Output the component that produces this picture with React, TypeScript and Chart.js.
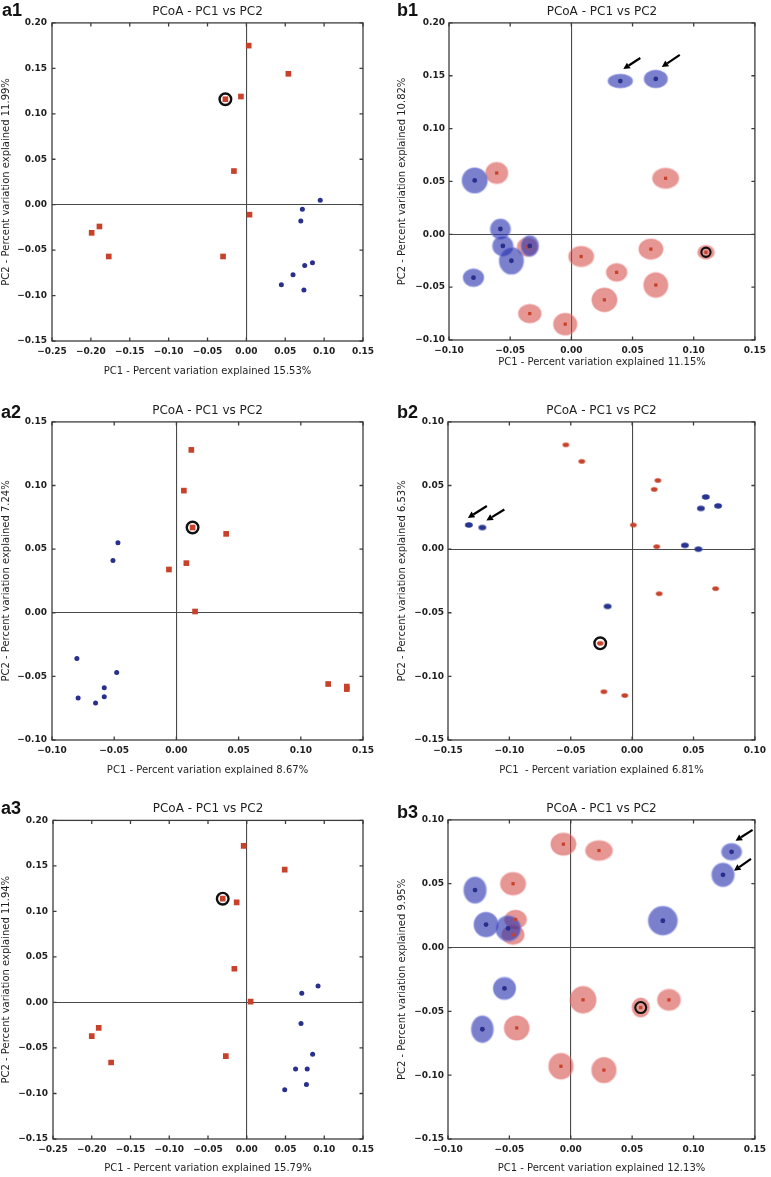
import React, { useEffect, useRef } from 'react';
import { Chart, registerables } from 'chart.js';

Chart.register(...registerables);

// ---------- data (PC1 / PC2 coordinates) ----------
// a1
const a1RedPC1 = [0.003, 0.054, -0.007, -0.027, -0.016, 0.004, -0.030, -0.189, -0.199, -0.177];
const a1RedPC2 = [0.175, 0.144, 0.119, 0.116, 0.037, -0.011, -0.057, -0.024, -0.031, -0.057];
const a1BluePC1 = [0.095, 0.072, 0.070, 0.085, 0.075, 0.060, 0.045, 0.074];
const a1BluePC2 = [0.005, -0.005, -0.018, -0.064, -0.067, -0.077, -0.088, -0.094];
const a1Circled = 3;

// b1
const b1BluePC1 = [0.040, 0.069, -0.079, -0.058, -0.056, -0.034, -0.049, -0.080];
const b1BluePC2 = [0.145, 0.147, 0.051, 0.005, -0.011, -0.011, -0.025, -0.041];
const b1BlueSpread1 = [0.0099, 0.0094, 0.0102, 0.0081, 0.0083, 0.0071, 0.0098, 0.0083];
const b1BlueSpread2 = [0.0063, 0.0082, 0.0118, 0.0094, 0.0094, 0.0097, 0.0126, 0.0082];
const b1RedPC1 = [-0.061, 0.077, -0.036, 0.008, 0.065, 0.110, 0.037, 0.069, 0.027, -0.034, -0.005];
const b1RedPC2 = [0.058, 0.053, -0.012, -0.021, -0.014, -0.017, -0.036, -0.048, -0.062, -0.075, -0.085];
const b1RedSpread1 = [0.0089, 0.0105, 0.0081, 0.0101, 0.0097, 0.0067, 0.0083, 0.0097, 0.0101, 0.0091, 0.0094];
const b1RedSpread2 = [0.0099, 0.0094, 0.0086, 0.0094, 0.0094, 0.0063, 0.0082, 0.0115, 0.011, 0.0086, 0.0102];
const b1Circled = 5;

// a2
const a2RedPC1 = [0.012, 0.006, 0.013, 0.040, 0.008, -0.006, 0.015, 0.122, 0.137, 0.137];
const a2RedPC2 = [0.128, 0.096, 0.067, 0.062, 0.039, 0.034, 0.001, -0.056, -0.058, -0.060];
const a2BluePC1 = [-0.047, -0.051, -0.080, -0.048, -0.079, -0.058, -0.058, -0.065];
const a2BluePC2 = [0.055, 0.041, -0.036, -0.047, -0.067, -0.059, -0.066, -0.071];
const a2Circled = 2;

// b2
const b2RedPC1 = [-0.054, -0.041, 0.021, 0.018, 0.001, 0.020, 0.022, 0.068, -0.026, -0.023, -0.006];
const b2RedPC2 = [0.082, 0.069, 0.054, 0.047, 0.019, 0.002, -0.035, -0.031, -0.074, -0.112, -0.115];
const b2BluePC1 = [-0.133, -0.122, 0.060, 0.056, 0.070, 0.043, 0.054, -0.020];
const b2BluePC2 = [0.019, 0.017, 0.041, 0.032, 0.034, 0.003, 0.000, -0.045];
const b2Circled = 8;

// a3
const a3RedPC1 = [-0.004, 0.049, -0.031, -0.013, -0.016, 0.005, -0.027, -0.191, -0.200, -0.175];
const a3RedPC2 = [0.172, 0.146, 0.114, 0.110, 0.037, 0.001, -0.059, -0.028, -0.037, -0.066];
const a3BluePC1 = [0.092, 0.071, 0.070, 0.085, 0.063, 0.078, 0.077, 0.049];
const a3BluePC2 = [0.018, 0.010, -0.023, -0.057, -0.073, -0.073, -0.090, -0.096];
const a3Circled = 2;

// b3
const b3BluePC1 = [0.131, 0.124, -0.078, -0.069, -0.051, 0.075, -0.054, -0.072];
const b3BluePC2 = [0.075, 0.057, 0.045, 0.018, 0.015, 0.021, -0.032, -0.064];
const b3BlueSpread1 = [0.0081, 0.009, 0.009, 0.0097, 0.0101, 0.0117, 0.009, 0.0088];
const b3BlueSpread2 = [0.0065, 0.0091, 0.0102, 0.0095, 0.0098, 0.0111, 0.0085, 0.0103];
const b3RedPC1 = [-0.006, 0.023, -0.047, -0.045, -0.047, 0.010, 0.080, 0.057, -0.044, -0.008, 0.027];
const b3RedPC2 = [0.081, 0.076, 0.050, 0.022, 0.010, -0.041, -0.041, -0.047, -0.063, -0.093, -0.096];
const b3RedSpread1 = [0.0101, 0.0108, 0.0101, 0.0088, 0.0089, 0.0105, 0.0092, 0.007, 0.01, 0.0098, 0.0098];
const b3RedSpread2 = [0.0085, 0.0076, 0.0087, 0.0072, 0.0074, 0.0103, 0.0081, 0.0074, 0.0094, 0.01, 0.0098];
const b3Circled = 7;

// axis texts
const chartTitle = 'PCoA - PC1 vs PC2';
const xTitles = [
  'PC1 - Percent variation explained 15.53%',
  'PC1 - Percent variation explained 11.15%',
  'PC1 - Percent variation explained 8.67%',
  'PC1  - Percent variation explained 6.81%',
  'PC1 - Percent variation explained 15.79%',
  'PC1 - Percent variation explained 12.13%',
];
const yTitles = [
  'PC2 - Percent variation explained 11.99%',
  'PC2 - Percent variation explained 10.82%',
  'PC2 - Percent variation explained 7.24%',
  'PC2 - Percent variation explained 6.53%',
  'PC2 - Percent variation explained 11.94%',
  'PC2 - Percent variation explained 9.95%',
];
const panelLabels = ['a1', 'b1', 'a2', 'b2', 'a3', 'b3'];
// axis ranges [xmin, xmax, ymin, ymax]
const axisRanges = [
  [-0.25, 0.15, -0.15, 0.2],
  [-0.1, 0.15, -0.1, 0.2],
  [-0.1, 0.15, -0.1, 0.15],
  [-0.15, 0.1, -0.15, 0.1],
  [-0.25, 0.15, -0.15, 0.2],
  [-0.1, 0.15, -0.15, 0.1],
];

// ---------- styles ----------
const FONT = '"DejaVu Sans", sans-serif';
const RED = '#c8412a';
const BLUE = '#282f8c';
const BLUE_FILL = 'rgba(40,50,172,0.62)';
const BLUE_RIM = 'rgba(120,128,220,0.55)';
const RED_FILL = 'rgba(208,62,56,0.54)';
const RED_RIM = 'rgba(232,130,130,0.5)';

function makeEllipse(rx: number, ry: number, fill: string, rim: string, rimWidth: number) {
  const pad = Math.ceil(rimWidth) + 1;
  const w = Math.ceil(rx * 2) + pad * 2;
  const h = Math.ceil(ry * 2) + pad * 2;
  const c = document.createElement('canvas');
  c.width = w;
  c.height = h;
  const g = c.getContext('2d')!;
  g.beginPath();
  g.ellipse(w / 2, h / 2, rx, ry, 0, 0, Math.PI * 2);
  g.fillStyle = fill;
  g.fill();
  if (rimWidth > 0) {
    g.lineWidth = rimWidth;
    g.strokeStyle = rim;
    g.stroke();
  }
  return c;
}

function spreadStyle(s1: number[], s2: number[], fill: string, rim: string) {
  return (ctx: any) => {
    const i = ctx.dataIndex;
    const xs = ctx.chart.scales.x;
    const ys = ctx.chart.scales.y;
    if (i == null || !xs || !ys) return 'circle';
    const rx = Math.abs(xs.getPixelForValue(s1[i]) - xs.getPixelForValue(0));
    const ry = Math.abs(ys.getPixelForValue(s2[i]) - ys.getPixelForValue(0));
    if (!isFinite(rx) || !isFinite(ry) || rx <= 0 || ry <= 0) return 'circle';
    return makeEllipse(rx, ry, fill, rim, 1.6);
  };
}

const toPts = (xs: number[], ys: number[]) => xs.map((x, i) => ({ x, y: ys[i] }));

function ringDataset(x: number, y: number, r: number, w: number) {
  return {
    data: [{ x, y }],
    pointStyle: 'circle',
    pointRadius: r,
    pointBorderWidth: w,
    pointBorderColor: '#111',
    pointBackgroundColor: 'rgba(255,255,255,0)',
    order: 1,
  };
}

function plainDatasets(rx: number[], ry: number[], bx: number[], by: number[], c: number) {
  return [
    { data: toPts(bx, by), pointStyle: 'circle', pointRadius: 2.5, pointBorderWidth: 0, pointBackgroundColor: BLUE, order: 0 },
    { data: toPts(rx, ry), pointStyle: 'rect', pointRadius: 4, pointBorderWidth: 0, pointBackgroundColor: RED, order: 0 },
    ringDataset(rx[c], ry[c], 5.8, 2.4),
  ];
}

function spreadDatasets(
  rx: number[], ry: number[], rs1: number[], rs2: number[],
  bx: number[], by: number[], bs1: number[], bs2: number[], c: number, ringR: number,
) {
  return [
    { data: toPts(bx, by), pointStyle: 'circle', pointRadius: 2.4, pointBorderWidth: 0, pointBackgroundColor: BLUE, order: 0 },
    { data: toPts(rx, ry), pointStyle: 'rect', pointRadius: 2.3, pointBorderWidth: 0, pointBackgroundColor: RED, order: 0 },
    ringDataset(rx[c], ry[c], ringR, 2.1),
    { data: toPts(bx, by), pointStyle: spreadStyle(bs1, bs2, BLUE_FILL, BLUE_RIM), pointRadius: 4, pointBorderWidth: 0, order: 2 },
    { data: toPts(rx, ry), pointStyle: spreadStyle(rs1, rs2, RED_FILL, RED_RIM), pointRadius: 4, pointBorderWidth: 0, order: 3 },
  ];
}

function dotDatasets(rx: number[], ry: number[], bx: number[], by: number[], c: number) {
  const redDot = makeEllipse(3.3, 2.3, RED, RED, 0);
  const blueDot = makeEllipse(3.9, 2.8, '#283590', BLUE, 0);
  return [
    { data: toPts(bx, by), pointStyle: blueDot, pointRadius: 3, pointBorderWidth: 0, order: 0 },
    { data: toPts(rx, ry), pointStyle: redDot, pointRadius: 3, pointBorderWidth: 0, order: 0 },
    ringDataset(rx[c], ry[c], 5.8, 2.4),
  ];
}

// ---------- panel layouts ----------
type Arrow = { ds: number; index: number; tip: [number, number]; tail: [number, number] };
type Panel = {
  idx: number;
  left: number; top: number; width: number; height: number;
  pad: { left: number; right: number; top: number; bottom: number };
  yWidth: number; xHeight: number; yTitlePad: number; yTickPad: number;
  labelPos: [number, number];
  datasets: any[];
  arrows: Arrow[];
};

const panels: Panel[] = [
  {
    idx: 0, left: 0, top: 0, width: 385, height: 390,
    pad: { left: 0, right: 22, top: 0, bottom: 13 }, yWidth: 52, xHeight: 36, yTitlePad: 0, yTickPad: 5,
    labelPos: [2, 11],
    datasets: plainDatasets(a1RedPC1, a1RedPC2, a1BluePC1, a1BluePC2, a1Circled),
    arrows: [],
  },
  {
    idx: 1, left: 385, top: 0, width: 386, height: 390,
    pad: { left: 10, right: 12, top: 0, bottom: 22 }, yWidth: 54, xHeight: 28, yTitlePad: 1, yTickPad: 4,
    labelPos: [12, 11],
    datasets: spreadDatasets(b1RedPC1, b1RedPC2, b1RedSpread1, b1RedSpread2, b1BluePC1, b1BluePC2, b1BlueSpread1, b1BlueSpread2, b1Circled, 4.6),
    arrows: [
      { ds: 0, index: 0, tip: [3, -12], tail: [20, -23] },
      { ds: 0, index: 1, tip: [6, -12], tail: [24, -24] },
    ],
  },
  {
    idx: 2, left: 0, top: 390, width: 385, height: 390,
    pad: { left: 0, right: 22, top: 9, bottom: 4 }, yWidth: 52, xHeight: 36, yTitlePad: 0, yTickPad: 5,
    labelPos: [1, 23],
    datasets: plainDatasets(a2RedPC1, a2RedPC2, a2BluePC1, a2BluePC2, a2Circled),
    arrows: [],
  },
  {
    idx: 3, left: 385, top: 390, width: 386, height: 390,
    pad: { left: 10, right: 13, top: 9, bottom: 4 }, yWidth: 53, xHeight: 36, yTitlePad: 1, yTickPad: 4,
    labelPos: [12, 23],
    datasets: dotDatasets(b2RedPC1, b2RedPC2, b2BluePC1, b2BluePC2, b2Circled),
    arrows: [
      { ds: 0, index: 0, tip: [-1, -7], tail: [18, -19] },
      { ds: 0, index: 1, tip: [4, -7], tail: [22, -18] },
    ],
  },
  {
    idx: 4, left: 0, top: 780, width: 385, height: 397,
    pad: { left: 0, right: 22, top: 17.5, bottom: 3 }, yWidth: 53, xHeight: 35, yTitlePad: 0, yTickPad: 5,
    labelPos: [1, 29],
    datasets: plainDatasets(a3RedPC1, a3RedPC2, a3BluePC1, a3BluePC2, a3Circled),
    arrows: [],
  },
  {
    idx: 5, left: 385, top: 780, width: 386, height: 397,
    pad: { left: 10, right: 13, top: 17, bottom: 3 }, yWidth: 53, xHeight: 35, yTitlePad: 1, yTickPad: 4,
    labelPos: [12, 33],
    datasets: spreadDatasets(b3RedPC1, b3RedPC2, b3RedSpread1, b3RedSpread2, b3BluePC1, b3BluePC2, b3BlueSpread1, b3BlueSpread2, b3Circled, 5.5),
    arrows: [
      { ds: 0, index: 0, tip: [4, -11], tail: [21, -22] },
      { ds: 0, index: 1, tip: [11, -4], tail: [28, -16] },
    ],
  },
];

const fmtTick = (v: any) => {
  const n = Number(v);
  const s = Math.abs(n).toFixed(2);
  return n < -1e-9 ? '\u2212' + s : s;
};

const zeroGrid = (ctx: any) => (ctx.tick && Math.abs(ctx.tick.value) < 1e-9 ? '#4a4a4a' : 'rgba(0,0,0,0)');

const decorPlugin = {
  id: 'decor',
  afterDraw(chart: any, _args: any, o: any) {
    const { ctx, chartArea: a, scales } = chart;
    ctx.save();
    // frame
    ctx.strokeStyle = '#3c3c3c';
    ctx.lineWidth = 1.3;
    ctx.strokeRect(a.left, a.top, a.right - a.left, a.bottom - a.top);
    // inward tick marks on all four sides
    const L = 3.5;
    ctx.beginPath();
    for (const t of scales.x.ticks) {
      const px = scales.x.getPixelForValue(t.value);
      ctx.moveTo(px, a.bottom);
      ctx.lineTo(px, a.bottom - L);
      ctx.moveTo(px, a.top);
      ctx.lineTo(px, a.top + L);
    }
    for (const t of scales.y.ticks) {
      const py = scales.y.getPixelForValue(t.value);
      ctx.moveTo(a.left, py);
      ctx.lineTo(a.left + L, py);
      ctx.moveTo(a.right, py);
      ctx.lineTo(a.right - L, py);
    }
    ctx.stroke();
    // arrows pointing at samples
    for (const ar of o.arrows || []) {
      const el = chart.getDatasetMeta(ar.ds).data[ar.index];
      if (!el) continue;
      const tx = el.x + ar.tip[0];
      const ty = el.y + ar.tip[1];
      const sx = el.x + ar.tail[0];
      const sy = el.y + ar.tail[1];
      const ang = Math.atan2(ty - sy, tx - sx);
      const head = 6.5;
      const hw = 3.4;
      const bx = tx - head * Math.cos(ang);
      const by = ty - head * Math.sin(ang);
      ctx.strokeStyle = '#000';
      ctx.fillStyle = '#000';
      ctx.lineWidth = 2.2;
      ctx.beginPath();
      ctx.moveTo(sx, sy);
      ctx.lineTo(bx, by);
      ctx.stroke();
      ctx.beginPath();
      ctx.moveTo(tx, ty);
      ctx.lineTo(bx + hw * Math.sin(ang), by - hw * Math.cos(ang));
      ctx.lineTo(bx - hw * Math.sin(ang), by + hw * Math.cos(ang));
      ctx.closePath();
      ctx.fill();
    }
    // panel label
    ctx.fillStyle = '#111';
    ctx.font = 'bold 18px "Liberation Sans", Arial, sans-serif';
    ctx.textAlign = 'left';
    ctx.textBaseline = 'middle';
    ctx.fillText(o.label, o.labelPos[0], o.labelPos[1]);
    ctx.restore();
  },
};

function buildConfig(p: Panel): any {
  const [xmin, xmax, ymin, ymax] = axisRanges[p.idx];
  const tickFont = { family: FONT, size: 9, weight: 'bold' as const };
  return {
    type: 'scatter',
    data: { datasets: p.datasets },
    options: {
      animation: false,
      responsive: false,
      devicePixelRatio: 1,
      events: [],
      layout: { padding: p.pad, autoPadding: false },
      plugins: {
        legend: { display: false },
        tooltip: { enabled: false },
        title: {
          display: true,
          text: chartTitle,
          fullSize: false,
          color: '#1e1e1e',
          font: { family: FONT, size: 12, weight: 'normal' },
          padding: { top: 4.5, bottom: 4 },
        },
        decor: { label: panelLabels[p.idx], labelPos: p.labelPos, arrows: p.arrows },
      },
      scales: {
        x: {
          type: 'linear',
          min: xmin,
          max: xmax,
          afterFit: (s: any) => { s.height = p.xHeight; },
          border: { display: false },
          grid: { drawTicks: false, color: zeroGrid, lineWidth: 1.1 },
          ticks: {
            stepSize: 0.05, callback: fmtTick, font: tickFont, color: '#1e1e1e',
            padding: 5, maxRotation: 0, minRotation: 0, autoSkip: false,
          },
          title: {
            display: true, text: xTitles[p.idx], color: '#1e1e1e',
            font: { family: FONT, size: 10 }, padding: { top: 0, bottom: 0 },
          },
        },
        y: {
          type: 'linear',
          min: ymin,
          max: ymax,
          afterFit: (s: any) => { s.width = p.yWidth; },
          border: { display: false },
          grid: { drawTicks: false, color: zeroGrid, lineWidth: 1.1 },
          ticks: {
            stepSize: 0.05, callback: fmtTick, font: tickFont, color: '#1e1e1e',
            padding: p.yTickPad, autoSkip: false,
          },
          title: {
            display: true, text: yTitles[p.idx], color: '#1e1e1e',
            font: { family: FONT, size: 10 }, padding: { top: p.yTitlePad, bottom: 0 },
          },
        },
      },
    },
    plugins: [decorPlugin],
  };
}

function PanelChart({ p }: { p: Panel }) {
  const ref = useRef<HTMLCanvasElement>(null);
  useEffect(() => {
    if (!ref.current) return;
    const chart = new Chart(ref.current, buildConfig(p));
    return () => chart.destroy();
  }, [p]);
  return (
    <canvas
      ref={ref}
      width={p.width}
      height={p.height}
      style={{ position: 'absolute', left: p.left, top: p.top, width: p.width, height: p.height }}
    />
  );
}

export default function App() {
  return (
    <div style={{ position: 'absolute', left: 0, top: 0, width: 771, height: 1177, background: '#fff' }}>
      {panels.map((p) => (
        <PanelChart key={p.idx} p={p} />
      ))}
    </div>
  );
}
